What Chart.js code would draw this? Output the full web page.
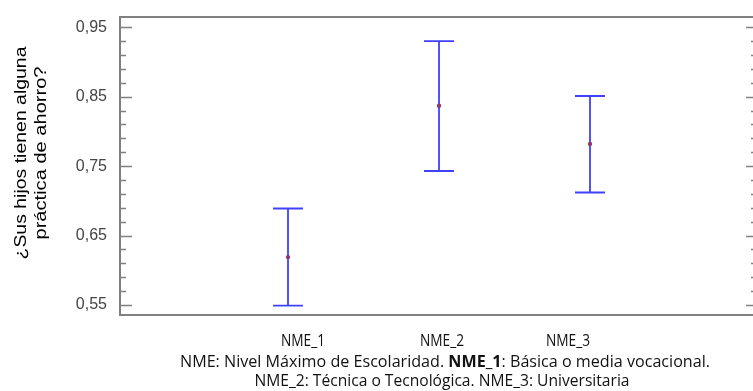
<!DOCTYPE html>
<html lang="es">
<head>
<meta charset="utf-8">
<title>¿Sus hijos tienen alguna práctica de ahorro?</title>
<script src="https://cdn.jsdelivr.net/npm/chart.js@4/dist/chart.umd.min.js"></script>
<style>
  html, body { margin: 0; padding: 0; background: #ffffff; overflow: hidden; }
  #wrap { width: 760px; height: 391px; }
</style>
</head>
<body>
<div id="wrap"><canvas id="chart" width="760" height="391"></canvas></div>
<script>
// Categories (education level) and the interval estimates per category
const categories = ['NME_1', 'NME_2', 'NME_3'];
const means = [0.619, 0.837, 0.782];
const lower = [0.549, 0.743, 0.712];
const upper = [0.689, 0.930, 0.851];

// Y axis range and tick marks
const yMin = 0.5356;
const yMax = 0.9648;
const yMajorStep = 0.1;
const yMinorStep = 0.02;
const yFirstTick = 0.55;
const yLastTick = 0.95;

// Axis title and caption lines
const yTitleLines = ['¿Sus hijos tienen alguna', 'práctica de ahorro?'];
const captionLine1 = [
  { t: 'NME: Nivel Máximo de Escolaridad. ', bold: false },
  { t: 'NME_1', bold: true },
  { t: ': Básica o media vocacional.', bold: false }
];
const captionLine2 = [
  { t: 'NME_2: Técnica o Tecnológica. NME_3: Universitaria', bold: false }
];

const BAR_COLOR = '#4040ff';
const MEAN_COLOR = '#8e3a6e';
const FRAME_COLOR = '#808080';
const SANS = 'Arial, "Liberation Sans", sans-serif';
const CAPTION_FONT = '"Liberation Sans Narrow", "Arial Narrow", "Open Sans", sans-serif';

// Draw a text run list centred at cx, squeezed/stretched to a given width
function drawRuns(ctx, runs, cx, cy, size, width) {
  let total = 0;
  runs.forEach(r => {
    ctx.font = (r.bold ? 'bold ' : '') + size + 'px ' + CAPTION_FONT;
    r.w = ctx.measureText(r.t).width;
    total += r.w;
  });
  const sx = width / total;
  ctx.save();
  ctx.translate(cx - width / 2, cy);
  ctx.scale(sx, 1);
  let x = 0;
  runs.forEach(r => {
    ctx.font = (r.bold ? 'bold ' : '') + size + 'px ' + CAPTION_FONT;
    ctx.fillText(r.t, x, 0);
    x += r.w;
  });
  ctx.restore();
}

// Frame, inward ticks, error bars, axis title and caption
const decorations = {
  id: 'decorations',
  beforeDatasetsDraw(chart) {
    const { ctx, chartArea: a, scales: { x, y } } = chart;
    ctx.save();

    // plot frame
    ctx.strokeStyle = FRAME_COLOR;
    ctx.lineWidth = 2;
    ctx.strokeRect(a.left, a.top, a.right - a.left, a.bottom - a.top);

    // inward ticks on the left and right sides
    ctx.lineWidth = 1.5;
    const n = Math.round((yLastTick - yFirstTick) / yMinorStep);
    for (let i = 0; i <= n; i++) {
      const v = yFirstTick + i * yMinorStep;
      const major = i % Math.round(yMajorStep / yMinorStep) === 0;
      const py = Math.round(y.getPixelForValue(v)) + 0.5;
      ctx.beginPath();
      ctx.moveTo(a.left, py);
      ctx.lineTo(a.left + (major ? 12 : 6), py);
      ctx.moveTo(a.right, py);
      ctx.lineTo(a.right - (major ? 8 : 3), py);
      ctx.stroke();
    }

    // error bars
    ctx.strokeStyle = BAR_COLOR;
    ctx.lineWidth = 1.8;
    const cap = 15;
    categories.forEach((c, i) => {
      const px = x.getPixelForValue(i + 1);
      const pt = y.getPixelForValue(upper[i]);
      const pb = y.getPixelForValue(lower[i]);
      ctx.beginPath();
      ctx.moveTo(px, pt);
      ctx.lineTo(px, pb);
      ctx.moveTo(px - cap, pt);
      ctx.lineTo(px + cap, pt);
      ctx.moveTo(px - cap, pb);
      ctx.lineTo(px + cap, pb);
      ctx.stroke();
    });
    ctx.restore();
  },
  afterDraw(chart) {
    const { ctx } = chart;
    ctx.save();

    // rotated y axis title, two lines
    ctx.fillStyle = '#000000';
    ctx.textAlign = 'center';
    ctx.textBaseline = 'middle';
    ctx.font = '16px ' + SANS;
    const lens = [213, 173];
    const xs = [22, 42];
    yTitleLines.forEach((t, i) => {
      const w = ctx.measureText(t).width;
      ctx.save();
      ctx.translate(xs[i], 153);
      ctx.rotate(-Math.PI / 2);
      ctx.scale(lens[i] / w, 1);
      ctx.fillText(t, 0, 0);
      ctx.restore();
    });

    // category names and caption below the frame
    ctx.fillStyle = '#111111';
    ctx.textAlign = 'left';
    ctx.textBaseline = 'middle';
    const labelX = [303, 442, 568];
    categories.forEach((c, i) => {
      drawRuns(ctx, [{ t: c, bold: false }], labelX[i], 341, 16, 44);
    });
    drawRuns(ctx, captionLine1, 445, 362, 16, 530);
    drawRuns(ctx, captionLine2, 442, 381, 16, 375);
    ctx.restore();
  }
};

new Chart(document.getElementById('chart'), {
  type: 'scatter',
  data: {
    datasets: [{
      label: 'Media',
      data: means.map((m, i) => ({ x: i + 1, y: m })),
      pointRadius: 2.2,
      pointHoverRadius: 2.2,
      pointBackgroundColor: MEAN_COLOR,
      pointBorderColor: MEAN_COLOR,
      borderWidth: 0
    }]
  },
  options: {
    responsive: false,
    animation: false,
    devicePixelRatio: 1,
    layout: { padding: { left: 0, top: 17, right: 6, bottom: 76 } },
    plugins: { legend: { display: false }, tooltip: { enabled: false } },
    scales: {
      x: {
        type: 'linear',
        min: -0.1126,
        max: 4.086,
        display: false
      },
      y: {
        type: 'linear',
        min: yMin,
        max: yMax,
        afterFit(scale) {
          scale.width = 120;
          scale.paddingTop = 0;
          scale.paddingBottom = 0;
        },
        afterBuildTicks(scale) {
          const t = [];
          for (let v = yFirstTick; v <= yLastTick + 1e-9; v += yMajorStep) t.push({ value: +v.toFixed(2) });
          scale.ticks = t;
        },
        grid: { display: false, drawTicks: false },
        border: { display: false },
        ticks: {
          padding: 13,
          color: '#444444',
          font: { family: SANS, size: 16 },
          callback: v => v.toFixed(2).replace('.', ',')
        }
      }
    }
  },
  plugins: [decorations]
});
</script>
</body>
</html>
